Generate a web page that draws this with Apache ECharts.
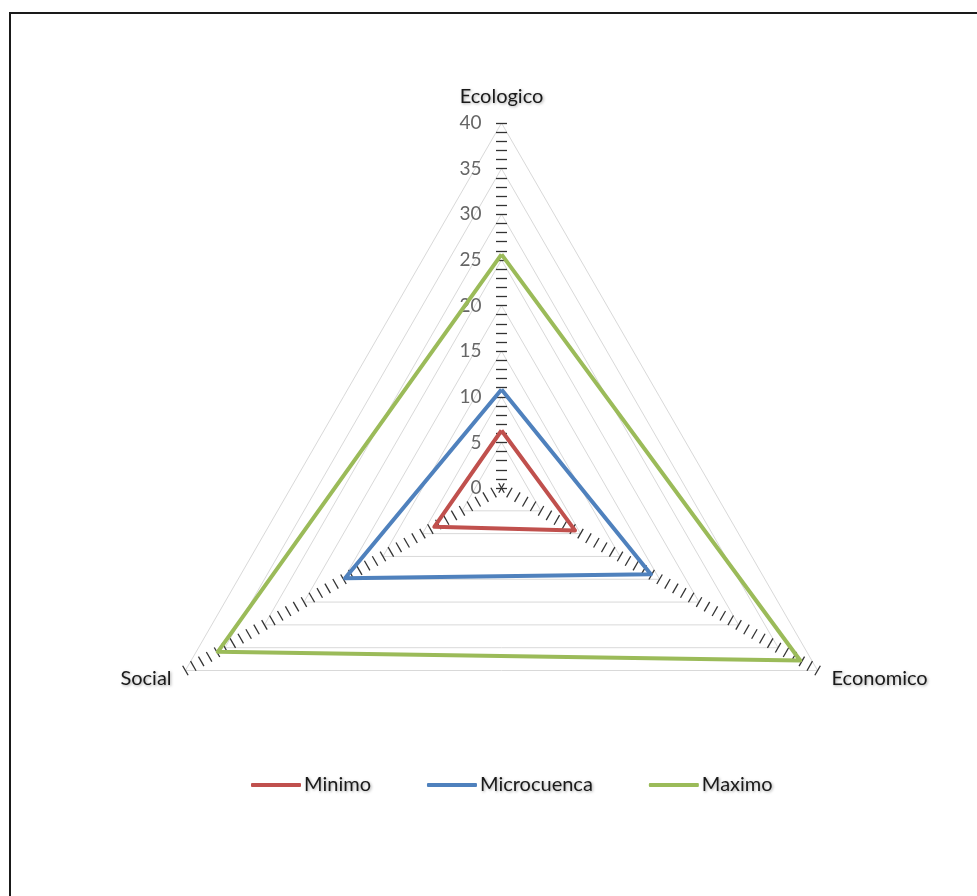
<!DOCTYPE html>
<html>
<head>
<meta charset="utf-8">
<script src="https://cdn.jsdelivr.net/npm/echarts@6/dist/echarts.min.js"></script>
<style>
  html, body { margin: 0; padding: 0; background: #fff; }
  #chart { width: 977px; height: 896px; }
</style>
</head>
<body>
<div id="chart"></div>
<script>
// Dimensions, in the order they go round the radar (top, lower left, lower right)
const dimensions = ['Ecologico', 'Social', 'Economico'];
const axisMax = 40;

// Scores per dimension
const minimo      = [6.3, 8.5, 9.3];
const microcuenca = [10.8, 19.8, 18.9];
const maximo      = [25.6, 35.9, 37.8];

const seriesNames = ['Minimo', 'Microcuenca', 'Maximo'];
const seriesColors = ['#C0504D', '#4F81BD', '#9BBB59'];

const FONT = 'Lato';
const center = [501.5, 488];
const radius = 365;
const tickLen = 11;
const textShadow = {
  textShadowColor: 'rgba(0,0,0,0.35)', textShadowBlur: 3, textShadowOffsetX: 1, textShadowOffsetY: 1
};

const chart = echarts.init(document.getElementById('chart'), null, { renderer: 'canvas' });

// Indicator list; the value labels only run along the first (vertical) axis
const mainIndicators = dimensions.map((name, i) => (
  i === 0 ? { name: name, min: 0, max: axisMax }
          : { name: name, min: 0, max: axisMax, axisLabel: { show: false } }
));

// Radar ticks sit on one side of the axis; each tick radar carries the unit ticks of a
// single axis and is nudged sideways by half a tick so the marks straddle that axis.
function tickRadar(axisIndex) {
  const angle = Math.PI / 2 + axisIndex * 2 * Math.PI / dimensions.length;
  // axis direction on screen (y grows downward) and the side the ticks fall on
  const ux = Math.cos(angle), uy = -Math.sin(angle);
  const nx = uy, ny = -ux;
  return {
    center: [center[0] - nx * tickLen / 2, center[1] - ny * tickLen / 2],
    radius: radius,
    startAngle: 90,
    indicator: dimensions.map((name, i) => (
      i === axisIndex ? { name: name, min: 0, max: axisMax }
                      : { name: name, min: 0, max: axisMax, axisTick: { show: false } }
    )),
    splitNumber: 40,
    axisName: { show: false },
    axisLine: { show: false },
    splitLine: { show: false },
    splitArea: { show: false },
    axisLabel: { show: false },
    axisTick: { show: true, length: tickLen, lineStyle: { color: '#333333', width: 1.3 } },
    silent: true
  };
}

const option = {
  backgroundColor: '#ffffff',
  animation: false,
  graphic: [{
    type: 'rect',
    shape: { x: 10, y: 13, width: 1100, height: 1000 },
    style: { fill: 'none', stroke: '#1a1a1a', lineWidth: 2 },
    silent: true,
    z: 100
  }],
  legend: {
    data: seriesNames,
    left: 246,
    top: 770,
    itemWidth: 50,
    itemHeight: 4,
    itemGap: 56,
    icon: 'roundRect',
    textStyle: Object.assign({
      fontFamily: FONT, fontSize: 20, color: '#1a1a1a', padding: [0, 0, 0, -2]
    }, textShadow)
  },
  radar: [{
    center: center,
    radius: radius,
    startAngle: 90,
    indicator: mainIndicators,
    splitNumber: 8,
    nameGap: 16,
    axisName: Object.assign({ color: '#1a1a1a', fontFamily: FONT, fontSize: 20 }, textShadow),
    axisLine: { show: false },
    axisTick: { show: false },
    splitLine: { show: true, lineStyle: { color: '#d9d9d9', width: 1 } },
    splitArea: { show: false },
    axisLabel: {
      show: true, color: '#666666', fontFamily: FONT, fontSize: 19, margin: 20,
      showMinLabel: true, showMaxLabel: true
    }
  }, tickRadar(0), tickRadar(1), tickRadar(2)],
  series: [{
    type: 'radar',
    radarIndex: 0,
    symbol: 'none',
    data: [minimo, microcuenca, maximo].map((vals, i) => ({
      name: seriesNames[i],
      value: vals,
      lineStyle: { color: seriesColors[i], width: 4 },
      itemStyle: { color: seriesColors[i] }
    })),
    z: 5
  }]
};

chart.setOption(option);
</script>
</body>
</html>
